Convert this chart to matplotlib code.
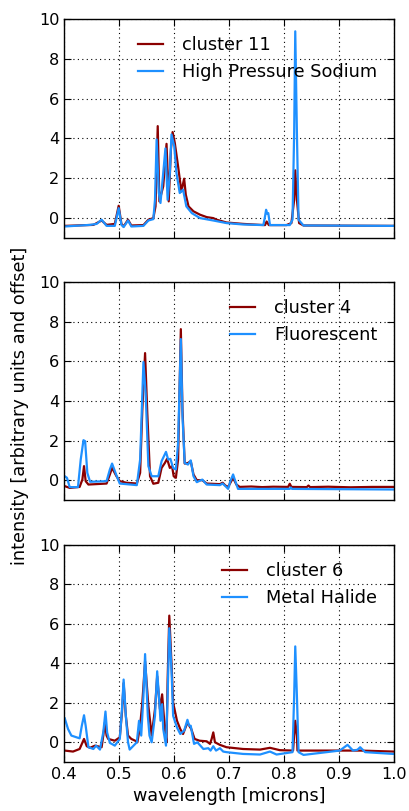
import matplotlib
matplotlib.use("Agg")
import matplotlib.pyplot as plt

# ── panel 1: cluster 11 vs High Pressure Sodium ─────────────────────────────
c11_wl = [0.401, 0.453, 0.468, 0.477, 0.492, 0.499, 0.504, 0.508, 0.516, 0.522,
          0.544, 0.553, 0.562, 0.566, 0.570, 0.573, 0.580, 0.586, 0.590, 0.594,
          0.597, 0.601, 0.607, 0.613, 0.618, 0.621, 0.626, 0.635, 0.647, 0.659,
          0.671, 0.677, 0.695, 0.725, 0.756, 0.765, 0.768, 0.772, 0.804, 0.813,
          0.818, 0.820, 0.823, 0.827, 0.835, 0.998]
c11_int = [-0.39, -0.34, -0.12, -0.34, -0.29, 0.62, -0.29, -0.42, -0.08, -0.37,
           -0.35, -0.08, 0.00, 0.59, 4.62, 0.84, 1.60, 3.73, 0.84, 3.45,
           4.32, 3.78, 2.60, 1.34, 1.98, 1.18, 0.59, 0.34, 0.17, 0.05,
           0.00, -0.08, -0.22, -0.29, -0.34, -0.35, -0.17, -0.35, -0.35, -0.25,
           0.92, 2.40, 0.92, -0.25, -0.37, -0.39]

hps_wl = [0.401, 0.447, 0.459, 0.468, 0.477, 0.492, 0.499, 0.504, 0.508, 0.516,
          0.522, 0.544, 0.553, 0.562, 0.565, 0.568, 0.572, 0.575, 0.580, 0.584,
          0.588, 0.592, 0.595, 0.600, 0.604, 0.610, 0.616, 0.622, 0.632, 0.647,
          0.671, 0.695, 0.725, 0.762, 0.765, 0.767, 0.769, 0.771, 0.774, 0.810,
          0.815, 0.818, 0.820, 0.823, 0.826, 0.835, 0.998]
hps_int = [-0.42, -0.34, -0.29, -0.08, -0.39, -0.39, 0.50, -0.34, -0.45, -0.12,
           -0.42, -0.39, -0.12, -0.05, 0.92, 3.95, 1.26, 0.76, 2.27, 3.50,
           0.92, 2.27, 4.20, 3.61, 2.27, 1.26, 1.43, 0.59, 0.25, 0.00,
           -0.12, -0.25, -0.32, -0.35, 0.08, 0.42, 0.22, 0.25, -0.35, -0.35,
           -0.08, 4.28, 9.38, 4.28, -0.08, -0.37, -0.39]

# ── panel 2: cluster 4 vs Fluorescent ────────────────────────────────────────
c4_wl = [0.401, 0.410, 0.428, 0.433, 0.436, 0.439, 0.444, 0.477, 0.483, 0.487,
         0.495, 0.501, 0.513, 0.532, 0.538, 0.542, 0.547, 0.551, 0.556, 0.562,
         0.571, 0.577, 0.583, 0.587, 0.592, 0.596, 0.599, 0.603, 0.607, 0.612,
         0.615, 0.619, 0.625, 0.630, 0.635, 0.641, 0.651, 0.659, 0.683, 0.688,
         0.693, 0.698, 0.707, 0.713, 0.719, 0.740, 0.760, 0.780, 0.807, 0.810,
         0.813, 0.841, 0.844, 0.847, 0.880, 0.920, 0.960, 0.998]
c4_int = [-0.30, -0.39, -0.34, 0.03, 0.71, -0.05, -0.22, -0.17, 0.29, 0.62,
          0.20, -0.05, -0.13, -0.17, 0.37, 3.56, 6.42, 3.40, 0.20, -0.18,
          -0.13, 0.62, 0.87, 1.08, 0.62, 0.71, 0.20, 0.12, 1.04, 7.63,
          3.56, 0.84, 0.87, 0.96, 0.29, 0.00, 0.00, -0.17, -0.20, -0.13,
          -0.27, -0.34, 0.12, -0.22, -0.34, -0.32, -0.35, -0.33, -0.34, -0.18,
          -0.34, -0.35, -0.27, -0.35, -0.33, -0.36, -0.34, -0.34]

flu_wl = [0.401, 0.405, 0.410, 0.425, 0.430, 0.435, 0.438, 0.442, 0.447, 0.477,
          0.483, 0.487, 0.495, 0.501, 0.532, 0.538, 0.544, 0.548, 0.553, 0.559,
          0.571, 0.577, 0.585, 0.589, 0.593, 0.598, 0.603, 0.607, 0.612, 0.615,
          0.619, 0.625, 0.630, 0.635, 0.641, 0.651, 0.659, 0.683, 0.688, 0.693,
          0.698, 0.702, 0.707, 0.711, 0.716, 0.810, 0.812, 0.814, 0.998]
flu_int = [0.20, 0.12, -0.35, -0.35, 1.04, 2.02, 1.97, 0.37, -0.08, -0.05,
           0.54, 0.84, 0.24, -0.17, -0.25, 1.04, 5.97, 4.40, 0.71, 0.20,
           0.20, 0.96, 1.43, 1.04, 1.08, 0.62, 0.54, 1.88, 7.13, 3.23,
           0.87, 0.79, 1.00, 0.20, -0.10, 0.03, -0.22, -0.25, -0.17, -0.30,
           -0.44, -0.05, 0.29, -0.05, -0.44, -0.44, -0.37, -0.44, -0.47]

# ── panel 3: cluster 6 vs Metal Halide ───────────────────────────────────────
c6_wl = [0.401, 0.416, 0.428, 0.436, 0.441, 0.447, 0.456, 0.468, 0.471, 0.474,
         0.477, 0.480, 0.492, 0.501, 0.505, 0.508, 0.512, 0.516, 0.522, 0.529,
         0.533, 0.538, 0.542, 0.547, 0.553, 0.559, 0.565, 0.569, 0.574, 0.578,
         0.583, 0.586, 0.588, 0.591, 0.595, 0.598, 0.605, 0.611, 0.616, 0.624,
         0.631, 0.637, 0.646, 0.659, 0.665, 0.668, 0.671, 0.674, 0.683, 0.695,
         0.725, 0.756, 0.774, 0.792, 0.816, 0.818, 0.820, 0.823, 0.824, 0.877,
         0.938, 0.998]
c6_int = [-0.42, -0.47, -0.34, 0.17, -0.20, -0.28, -0.17, -0.25, 0.34, 1.00,
          0.34, 0.17, 0.08, 0.25, 1.51, 3.00, 1.34, 0.34, 0.17, 0.08,
          0.00, 0.84, 2.01, 4.10, 1.84, 0.34, 1.68, 3.35, 1.68, 2.43,
          0.67, 0.00, 3.18, 6.42, 4.02, 2.01, 1.09, 0.67, 0.42, 1.00,
          0.67, 0.17, 0.08, 0.05, -0.08, 0.17, 0.50, 0.00, -0.13, -0.25,
          -0.34, -0.37, -0.28, -0.40, -0.42, 0.34, 1.09, 0.34, -0.42, -0.42,
          -0.42, -0.47]

mh_wl = [0.401, 0.407, 0.413, 0.428, 0.432, 0.436, 0.439, 0.444, 0.453, 0.458,
         0.465, 0.471, 0.475, 0.478, 0.483, 0.492, 0.501, 0.505, 0.508, 0.512,
         0.516, 0.519, 0.525, 0.532, 0.536, 0.540, 0.544, 0.547, 0.552, 0.555,
         0.559, 0.565, 0.569, 0.573, 0.575, 0.578, 0.580, 0.585, 0.588, 0.591,
         0.595, 0.598, 0.605, 0.611, 0.618, 0.624, 0.627, 0.630, 0.636, 0.642,
         0.653, 0.662, 0.666, 0.671, 0.676, 0.683, 0.689, 0.695, 0.725, 0.756,
         0.774, 0.786, 0.815, 0.818, 0.820, 0.823, 0.826, 0.835, 0.877, 0.901,
         0.915, 0.925, 0.933, 0.938, 0.947, 0.998]
mh_int = [1.21, 0.67, 0.34, 0.20, 0.84, 1.37, 0.84, -0.25, -0.34, -0.17,
          -0.37, 0.50, 1.56, 0.50, -0.03, -0.17, 0.17, 1.68, 3.18, 1.34,
          0.00, -0.37, -0.20, 0.00, 1.09, 0.34, 2.35, 4.47, 1.34, 0.34,
          0.00, 1.34, 3.60, 2.01, 1.09, 1.93, 0.67, -0.17, 2.35, 5.78,
          3.69, 1.34, 0.75, 0.42, 0.59, 1.14, 0.84, 0.84, -0.08, 0.00,
          -0.34, -0.30, -0.42, -0.20, -0.42, -0.30, -0.47, -0.50, -0.59, -0.62,
          -0.47, -0.62, -0.50, 2.35, 4.86, 2.35, -0.50, -0.64, -0.50, -0.42,
          -0.13, -0.42, -0.38, -0.25, -0.50, -0.59]

RED = "#8b0000"
BLUE = "#1e90ff"

panels = [
    (c11_wl, c11_int, "cluster 11", hps_wl, hps_int, "High Pressure Sodium"),
    (c4_wl, c4_int, "cluster 4", flu_wl, flu_int, "Fluorescent"),
    (c6_wl, c6_int, "cluster 6", mh_wl, mh_int, "Metal Halide"),
]

fig = plt.figure(figsize=(4.09, 8.11), dpi=100)
fig.patch.set_facecolor("white")

boxes = [(0.7065, 0.9766), (0.3835, 0.652), (0.0604, 0.328)]
left, right = 0.157, 0.964

for i, ((bot, top), (rw, ri, rl, bw, bi, bl)) in enumerate(zip(boxes, panels)):
    ax = fig.add_axes([left, bot, right - left, top - bot])
    ax.plot(rw, ri, color=RED, lw=1.6, label=rl)
    ax.plot(bw, bi, color=BLUE, lw=1.6, label=bl)
    ax.set_xlim(0.4, 1.0)
    ax.set_ylim(-1, 10)
    ax.set_yticks([0, 2, 4, 6, 8, 10])
    ax.set_xticks([0.4, 0.5, 0.6, 0.7, 0.8, 0.9, 1.0])
    ax.grid(True, color="black", linestyle=(0, (1, 3)), linewidth=0.8)
    ax.tick_params(which="both", direction="in", top=True, right=True,
                   labelsize=11.6, length=5)
    for sp in ax.spines.values():
        sp.set_linewidth(1.0)
    if i < 2:
        ax.set_xticklabels([])
    else:
        ax.set_xlabel("wavelength [microns]", fontsize=12.7)
    ax.legend(loc="upper right", frameon=False, fontsize=12.8,
              handlelength=1.4, handletextpad=1.1, labelspacing=0.5,
              borderaxespad=0.55)

fig.text(0.05, 0.5, "intensity [arbitrary units and offset]", rotation=90,
         ha="center", va="center", fontsize=12.8)

fig.savefig("out.png", dpi=100, facecolor="white")
